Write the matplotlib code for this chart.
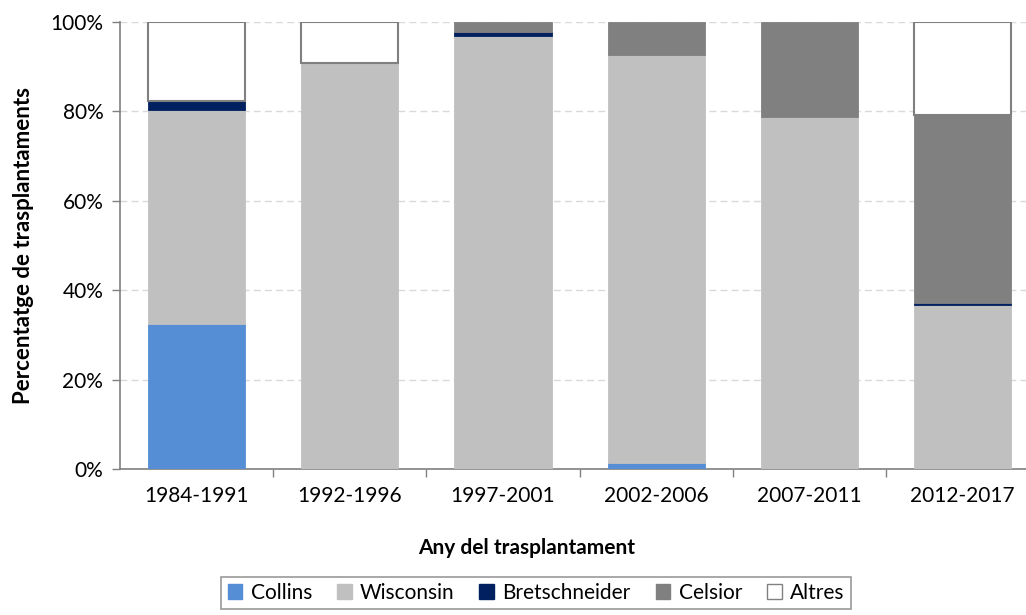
import numpy as np
import matplotlib
matplotlib.use("Agg")
import matplotlib.pyplot as plt
from matplotlib.patches import Patch
from matplotlib.ticker import FuncFormatter

plt.rcParams['font.family'] = ['Lato', 'DejaVu Sans']

# data (percentages)
periods = ['1984-1991', '1992-1996', '1997-2001', '2002-2006', '2007-2011', '2012-2017']
collins = [32.4, 0.0, 0.0, 1.4, 0.0, 0.0]
wisconsin = [48.0, 90.9, 96.8, 91.3, 78.7, 36.8]
bretschneider = [2.0, 0.0, 0.9, 0.0, 0.0, 0.4]
celsior = [0.0, 0.0, 2.3, 7.3, 21.3, 42.0]
altres = [17.6, 9.1, 0.0, 0.0, 0.0, 20.8]

series = [
    ('Collins', collins, '#558ED5', '#558ED5'),
    ('Wisconsin', wisconsin, '#C0C0C0', '#C0C0C0'),
    ('Bretschneider', bretschneider, '#002060', '#002060'),
    ('Celsior', celsior, '#808080', '#808080'),
    ('Altres', altres, '#FFFFFF', '#808080'),
]

fig = plt.figure(figsize=(10.26, 6.15), dpi=100)
ax = fig.add_axes([120 / 1026, 146 / 615, 1 - 120 / 1026, 447 / 615])

x = np.arange(len(periods))
bottom = np.zeros(len(periods))
handles = []
for name, vals, fc, ec in series:
    vals = np.array(vals)
    lw = 1.5 if name == 'Altres' else 0.6
    nz = vals > 0  # zero segments would leave a stray outline
    ax.bar(x[nz], vals[nz], 0.635, bottom=bottom[nz], color=fc, edgecolor=ec,
           linewidth=lw, zorder=3)
    bottom += vals
    handles.append(Patch(facecolor=fc, edgecolor=ec if name == 'Altres' else fc, linewidth=1, label=name))

ax.set_ylim(0, 100)
ax.set_xlim(-0.5, -0.5 + 906 / 153.2)
ax.set_yticks(np.arange(0, 101, 20))
ax.yaxis.set_major_formatter(FuncFormatter(lambda v, p: '%d%%' % v))
ax.yaxis.grid(True, color='#D9D9D9', linestyle=(0, (5, 3)), linewidth=1.0, zorder=0)

ax.set_xticks(x)
ax.set_xticklabels(periods)
ax.set_xticks(np.arange(0.5, len(periods) - 0.5, 1), minor=True)
ax.tick_params(axis='x', which='major', length=0, pad=12, labelsize=15)
ax.tick_params(axis='x', which='minor', length=6, color='#808080', width=1)
ax.tick_params(axis='y', length=6, color='#808080', width=1, labelsize=15, pad=6)

for s in ['top', 'right']:
    ax.spines[s].set_visible(False)
for s in ['left', 'bottom']:
    ax.spines[s].set_color('#808080')
    ax.spines[s].set_linewidth(1.2)

ax.set_ylabel('Percentatge de trasplantaments', fontsize=16, fontweight='bold', labelpad=12)
fig.text(527 / 1026, 1 - 548 / 615, 'Any del trasplantament', fontsize=15, fontweight='bold',
         ha='center', va='center')

leg = fig.legend(handles=handles, loc='center', bbox_to_anchor=(536 / 1026, 1 - 593 / 615),
                 ncol=5, fontsize=15, frameon=True, fancybox=False, handlelength=0.7,
                 handleheight=0.7, handletextpad=0.4, columnspacing=1.2, borderpad=0.3,
                 edgecolor='#808080')
leg.get_frame().set_linewidth(1.2)

fig.savefig('out.png', dpi=100)
